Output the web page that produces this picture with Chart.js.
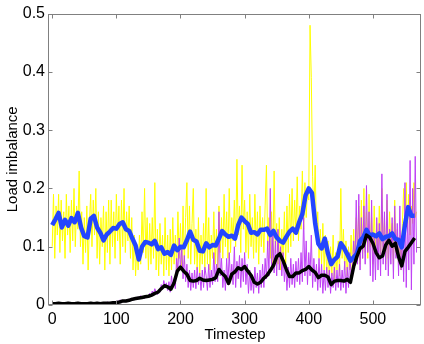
<!DOCTYPE html>
<html>
<head>
<meta charset="utf-8">
<script src="https://cdn.jsdelivr.net/npm/chart.js@4.4.1/dist/chart.umd.min.js"></script>
<style>
html,body{margin:0;padding:0;background:#fff;}
#wrap{width:424px;height:344px;}
</style>
</head>
<body>
<div id="wrap"><canvas id="c" width="424" height="344"></canvas></div>
<script>
// Tick labels
const xTicks = [0, 100, 200, 300, 400, 500];
const yTicks = [0, 0.1, 0.2, 0.3, 0.4, 0.5];
// Sampling of timesteps (noisy series every 2 steps, smoothed every 5 steps)
const noisyStep = 2, smoothStep = 5;

// Raw load imbalance (yellow)
const yellowRaw = [
 0.10,0.19,0.08,0.17,0.12,0.19,0.09,0.18,0.11,0.16,0.08,0.19,0.12,0.17,0.09,
 0.18,0.11,0.20,0.10,0.17,0.13,0.23,0.10,0.16,0.07,0.15,0.09,0.17,0.06,0.14,
 0.19,0.10,0.18,0.12,0.20,0.08,0.16,0.07,0.15,0.10,0.17,0.06,0.16,0.09,0.18,
 0.07,0.18,0.10,0.16,0.08,0.19,0.11,0.17,0.07,0.18,0.10,0.20,0.09,0.16,0.11,
 0.17,0.08,0.15,0.06,0.12,0.05,0.10,0.06,0.12,0.07,0.16,0.09,0.20,0.08,0.15,
 0.06,0.14,0.07,0.15,0.08,0.21,0.06,0.13,0.05,0.14,0.07,0.12,0.05,0.15,0.06,
 0.12,0.05,0.13,0.06,0.15,0.07,0.12,0.06,0.16,0.08,0.14,0.06,0.17,0.07,0.15,
 0.21,0.08,0.17,0.07,0.14,0.20,0.07,0.13,0.06,0.15,0.05,0.12,0.07,0.14,0.06,
 0.20,0.07,0.15,0.06,0.12,0.08,0.16,0.07,0.13,0.06,0.17,0.09,0.15,0.08,0.19,
 0.10,0.16,0.08,0.20,0.09,0.15,0.11,0.18,0.10,0.25,0.12,0.17,0.09,0.24,0.13,
 0.18,0.09,0.16,0.08,0.19,0.10,0.15,0.08,0.19,0.09,0.16,0.07,0.17,0.10,0.15,
 0.09,0.17,0.24,0.10,0.15,0.08,0.16,0.07,0.23,0.09,0.14,0.07,0.15,0.06,0.13,
 0.08,0.16,0.07,0.17,0.09,0.19,0.10,0.20,0.11,0.18,0.12,0.22,0.11,0.17,0.13,
 0.23,0.13,0.21,0.15,0.20,0.18,0.48,0.39,0.22,0.16,0.24,0.12,0.16,0.08,0.13,
 0.07,0.14,0.06,0.12,0.05,0.11,0.04,0.10,0.05,0.12,0.04,0.09,0.06,0.11,0.05,
 0.20,0.08,0.13,0.06,0.11,0.05,0.10,0.06,0.12,0.05,0.13,0.07,0.15,0.08,0.17,
 0.07,0.18,0.08,0.20,0.09,0.16,0.08,0.19,0.10,0.15,0.07,0.17,0.09,0.14,0.08,
 0.17,0.08,0.20,0.09,0.15,0.07,0.18,0.08,0.16,0.10,0.14,0.07,0.18,0.09,0.13,
 0.07,0.12,0.06,0.14,0.20,0.12,0.21,0.13,0.19,0.12,0.17,0.14,0.21,0.15,0.16
];
// Raw load imbalance (purple)
const purpleRaw = [
 0.003,0.002,0.004,0.002,0.003,0.002,0.003,0.004,0.002,0.003,0.002,0.003,0.002,0.004,0.003,
 0.002,0.003,0.002,0.004,0.003,0.002,0.003,0.002,0.004,0.003,0.002,0.003,0.002,0.003,0.004,
 0.003,0.002,0.004,0.003,0.002,0.005,0.003,0.004,0.002,0.003,0.004,0.002,0.003,0.005,0.003,
 0.004,0.003,0.005,0.004,0.006,0.003,0.007,0.005,0.009,0.004,0.006,0.008,0.005,0.010,0.006,
 0.008,0.012,0.007,0.011,0.009,0.013,0.010,0.014,0.011,0.016,0.012,0.015,0.011,0.017,0.013,
 0.013,0.020,0.016,0.024,0.019,0.028,0.022,0.018,0.026,0.022,0.035,0.027,0.042,0.030,0.038,
 0.025,0.040,0.022,0.050,0.030,0.045,0.028,0.080,0.060,0.115,0.060,0.100,0.045,0.085,0.040,
 0.070,0.030,0.060,0.025,0.055,0.030,0.060,0.028,0.065,0.035,0.055,0.025,0.060,0.030,0.065,
 0.050,0.025,0.070,0.030,0.060,0.035,0.090,0.040,0.070,0.040,0.160,0.050,0.080,0.030,0.060,
 0.025,0.080,0.035,0.090,0.040,0.070,0.035,0.100,0.030,0.075,0.045,0.085,0.030,0.080,0.040,
 0.090,0.035,0.070,0.020,0.060,0.025,0.050,0.020,0.065,0.030,0.055,0.020,0.060,0.030,0.070,
 0.030,0.080,0.045,0.110,0.050,0.200,0.060,0.120,0.055,0.110,0.050,0.130,0.060,0.100,0.050,
 0.090,0.040,0.070,0.025,0.065,0.030,0.080,0.035,0.070,0.030,0.075,0.040,0.080,0.035,0.090,
 0.040,0.150,0.050,0.110,0.035,0.090,0.050,0.120,0.030,0.080,0.040,0.070,0.025,0.080,0.030,
 0.070,0.020,0.060,0.025,0.065,0.030,0.060,0.020,0.055,0.030,0.065,0.025,0.060,0.030,0.070,
 0.025,0.060,0.030,0.075,0.020,0.065,0.030,0.090,0.050,0.060,0.110,0.070,0.180,0.070,0.190,
 0.060,0.150,0.080,0.170,0.070,0.205,0.090,0.160,0.050,0.180,0.040,0.120,0.043,0.150,0.060,
 0.140,0.050,0.225,0.070,0.160,0.060,0.190,0.050,0.130,0.070,0.150,0.045,0.170,0.080,0.140,
 0.050,0.170,0.060,0.120,0.040,0.210,0.030,0.150,0.060,0.248,0.026,0.200,0.070,0.255,0.090
];
// Smoothed (blue)
const blueSmooth = [
 0.137,0.147,0.158,0.133,0.146,0.136,0.149,0.142,0.158,0.133,
 0.118,0.116,0.148,0.153,0.133,0.124,0.111,0.121,0.126,0.132,
 0.131,0.139,0.142,0.130,0.127,0.114,0.102,0.078,0.100,0.108,
 0.107,0.104,0.110,0.096,0.099,0.088,0.091,0.086,0.102,0.094,
 0.100,0.099,0.111,0.126,0.112,0.109,0.093,0.092,0.106,0.099,
 0.103,0.102,0.114,0.127,0.121,0.117,0.119,0.114,0.137,0.150,
 0.144,0.139,0.124,0.125,0.121,0.129,0.129,0.131,0.120,0.127,
 0.116,0.110,0.107,0.117,0.126,0.131,0.124,0.142,0.156,0.188,
 0.200,0.192,0.140,0.105,0.097,0.114,0.088,0.070,0.078,0.083,
 0.106,0.098,0.087,0.076,0.082,0.088,0.110,0.116,0.129,0.119,
 0.121,0.118,0.123,0.113,0.117,0.118,0.123,0.113,0.112,0.099,
 0.138,0.168,0.153,0.153
];
// Smoothed (black)
const blackSmooth = [
 0.002,0.002,0.003,0.002,0.002,0.003,0.002,0.002,0.003,0.002,
 0.002,0.002,0.003,0.002,0.003,0.002,0.003,0.003,0.003,0.004,
 0.004,0.005,0.007,0.007,0.008,0.010,0.011,0.012,0.013,0.014,
 0.015,0.017,0.020,0.022,0.028,0.033,0.031,0.027,0.038,0.058,
 0.065,0.058,0.053,0.042,0.041,0.042,0.046,0.043,0.042,0.043,
 0.044,0.047,0.061,0.054,0.049,0.037,0.053,0.057,0.064,0.061,
 0.066,0.058,0.051,0.039,0.036,0.039,0.046,0.051,0.059,0.068,
 0.083,0.088,0.076,0.061,0.049,0.049,0.055,0.055,0.059,0.061,
 0.066,0.060,0.056,0.047,0.051,0.051,0.048,0.035,0.041,0.042,
 0.042,0.041,0.044,0.039,0.066,0.083,0.097,0.101,0.120,0.116,
 0.106,0.090,0.081,0.084,0.103,0.111,0.101,0.106,0.083,0.067,
 0.092,0.099,0.107,0.115
];

const pts = (arr, step) => arr.map((v, i) => ({x: i * step, y: v}));

const FONT = '"Liberation Sans", Arial, Helvetica, sans-serif';
const AXIS = '#808080';

const frame = {
  id: 'frame',
  afterDatasetsDraw(chart) {
    const {ctx, chartArea: a, scales: {x, y}} = chart;
    ctx.save();
    ctx.strokeStyle = AXIS;
    ctx.lineWidth = 1;
    const L = Math.round(a.left) - 0.5, R = Math.round(a.right) - 0.5;
    const T = Math.round(a.top) + 0.5, B = Math.round(a.bottom) - 0.5;
    ctx.strokeRect(L, T, R - L, B - T);
    const len = 4;
    ctx.beginPath();
    xTicks.forEach(v => {
      const px = Math.round(x.getPixelForValue(v)) + 0.5;
      ctx.moveTo(px, B); ctx.lineTo(px, B - len);
      ctx.moveTo(px, T); ctx.lineTo(px, T + len);
    });
    yTicks.forEach(v => {
      const py = Math.round(y.getPixelForValue(v)) + 0.5;
      ctx.moveTo(L, py); ctx.lineTo(L + len, py);
      ctx.moveTo(R, py); ctx.lineTo(R - len, py);
    });
    ctx.stroke();
    ctx.restore();
  }
};

new Chart(document.getElementById('c'), {
  type: 'line',
  data: {
    datasets: [
      {data: pts(yellowRaw, noisyStep), borderColor: '#ffff00', borderWidth: 1, order: 4},
      {data: pts(purpleRaw, noisyStep), borderColor: '#bf40f5', borderWidth: 1, order: 3},
      {data: pts(blueSmooth, smoothStep), borderColor: '#2345ff', borderWidth: 4.5, order: 2},
      {data: pts(blackSmooth, smoothStep), borderColor: '#000000', borderWidth: 3.5, order: 1}
    ]
  },
  options: {
    responsive: false,
    animation: false,
    layout: {padding: {top: 12, right: 3, left: 0, bottom: 0}},
    elements: {point: {radius: 0}, line: {tension: 0, borderJoinStyle: 'round'}},
    plugins: {legend: {display: false}, tooltip: {enabled: false}},
    scales: {
      x: {
        type: 'linear', min: -5, max: 575,
        afterBuildTicks: s => { s.ticks = xTicks.map(v => ({value: v})); },
        afterFit: s => { s.height = 39; },
        grid: {display: false, drawTicks: false},
        border: {display: false},
        ticks: {color: '#000', font: {family: FONT, size: 16}, padding: 5, maxRotation: 0, autoSkip: false,
                callback: v => String(v)},
        title: {display: true, text: 'Timestep', color: '#000', font: {family: FONT, size: 15, lineHeight: 1.2},
                padding: {top: 0, bottom: 0}}
      },
      y: {
        type: 'linear', min: 0, max: 0.5,
        afterBuildTicks: s => { s.ticks = yTicks.map(v => ({value: v})); },
        afterFit: s => { s.width = 49; },
        grid: {display: false, drawTicks: false},
        border: {display: false},
        ticks: {color: '#000', font: {family: FONT, size: 16}, padding: 4,
                callback: v => String(Math.round(v * 10) / 10)},
        title: {display: true, text: 'Load imbalance', color: '#000', font: {family: FONT, size: 15, lineHeight: 1.2},
                padding: {top: 4, bottom: 0}}
      }
    }
  },
  plugins: [frame]
});
</script>
</body>
</html>
